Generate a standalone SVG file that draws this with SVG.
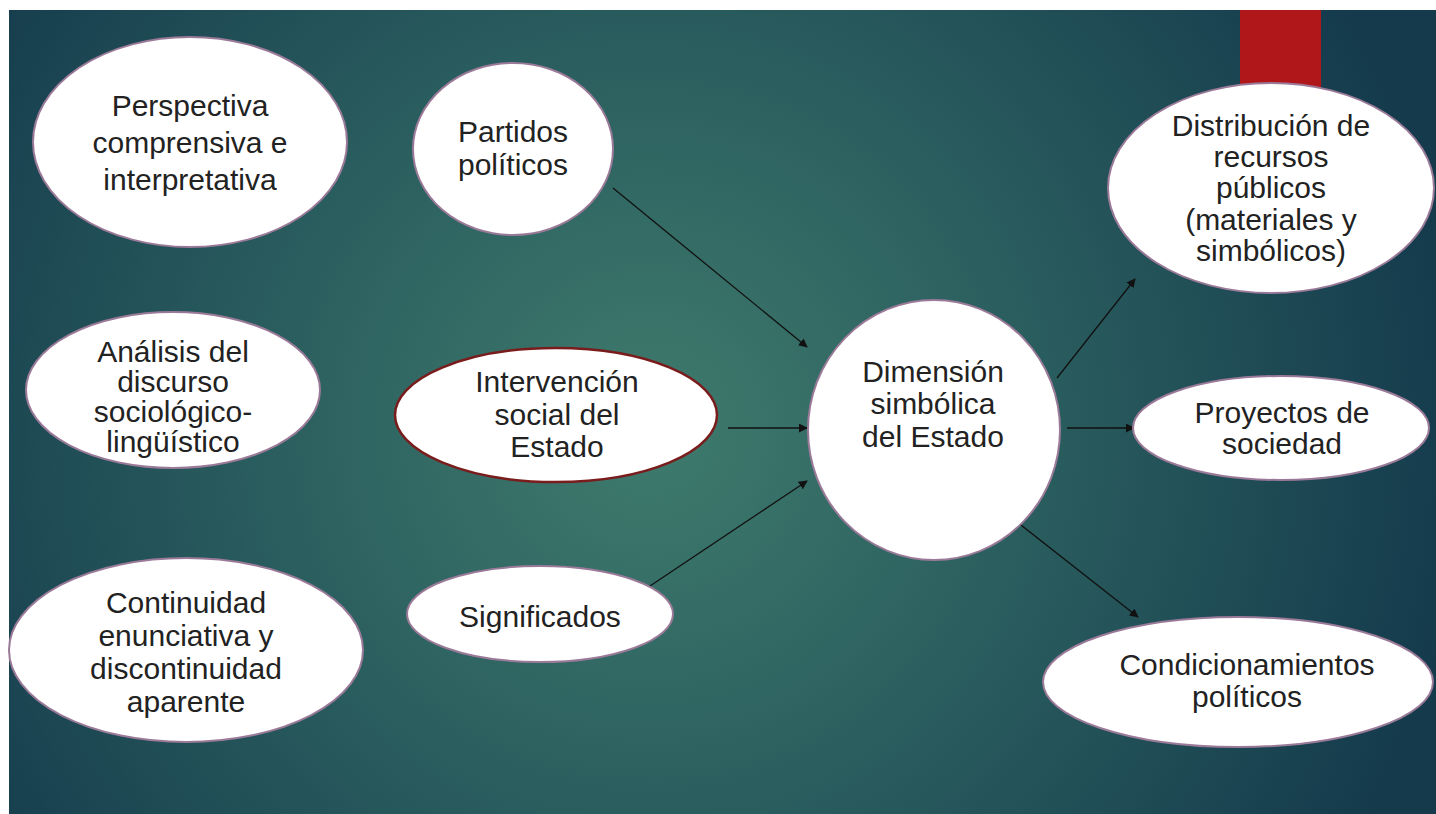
<svg xmlns="http://www.w3.org/2000/svg" width="1436" height="814" viewBox="0 0 1436 814">
<defs>
<radialGradient id="bg" cx="650" cy="430" r="820" gradientUnits="userSpaceOnUse">
<stop offset="0" stop-color="#3f7b6d"/>
<stop offset="0.45" stop-color="#2b5f5f"/>
<stop offset="1" stop-color="#143a4c"/>
</radialGradient>
<marker id="ah" viewBox="0 0 10 10" refX="9" refY="5" markerWidth="9" markerHeight="9" markerUnits="userSpaceOnUse" orient="auto">
<path d="M0,0 L10,5 L0,10 z" fill="#111"/>
</marker>
</defs>
<style>
.n{fill:#fff;stroke:#9a7a98;stroke-width:2}
.r{fill:#fff;stroke:#7a1c1c;stroke-width:2.5}
.t{font-family:"Liberation Sans",Arial,sans-serif;font-size:30px;fill:#222;text-anchor:middle}
.c{stroke:#111;stroke-width:1.3;fill:none;marker-end:url(#ah)}
</style>
<rect x="0" y="0" width="1436" height="814" fill="#fff"/>
<rect x="9" y="10" width="1427" height="804" fill="url(#bg)"/>
<rect x="1240" y="10" width="81" height="90" fill="#b0171a"/>
<g id="connectors">
<line class="c" x1="613" y1="188" x2="807" y2="347"/>
<line class="c" x1="728" y1="428" x2="807" y2="428"/>
<line class="c" x1="647" y1="588" x2="807" y2="481"/>
<line class="c" x1="1057" y1="378" x2="1135" y2="279"/>
<line class="c" x1="1067" y1="428" x2="1134" y2="428"/>
<line class="c" x1="998" y1="507" x2="1138" y2="617"/>
</g>
<g id="perspectiva">
<ellipse class="n" cx="190" cy="142" rx="157" ry="105"/>
<text class="t"><tspan x="190" y="116">Perspectiva</tspan><tspan x="190" y="153">comprensiva e</tspan><tspan x="190" y="190">interpretativa</tspan></text>
</g>
<g id="analisis">
<ellipse class="n" cx="173" cy="390" rx="147" ry="78"/>
<text class="t"><tspan x="173" y="362">Análisis del</tspan><tspan x="173" y="392">discurso</tspan><tspan x="173" y="422">sociológico-</tspan><tspan x="173" y="452">lingüístico</tspan></text>
</g>
<g id="continuidad">
<ellipse class="n" cx="186" cy="650" rx="177" ry="92"/>
<text class="t"><tspan x="186" y="613">Continuidad</tspan><tspan x="186" y="646">enunciativa y</tspan><tspan x="186" y="679">discontinuidad</tspan><tspan x="186" y="712">aparente</tspan></text>
</g>
<g id="partidos">
<ellipse class="n" cx="513" cy="149" rx="100" ry="86"/>
<text class="t"><tspan x="513" y="142">Partidos</tspan><tspan x="513" y="175">políticos</tspan></text>
</g>
<g id="intervencion">
<ellipse class="r" cx="556" cy="415" rx="161" ry="67"/>
<text class="t"><tspan x="557" y="392">Intervención</tspan><tspan x="557" y="425">social del</tspan><tspan x="557" y="457">Estado</tspan></text>
</g>
<g id="significados">
<ellipse class="n" cx="540" cy="614" rx="133" ry="48"/>
<text class="t" x="540" y="627">Significados</text>
</g>
<g id="dimension">
<ellipse class="n" cx="934" cy="430" rx="126" ry="130"/>
<text class="t"><tspan x="933" y="382">Dimensión</tspan><tspan x="933" y="414">simbólica</tspan><tspan x="933" y="447">del Estado</tspan></text>
</g>
<g id="distribucion">
<ellipse class="n" cx="1271" cy="188" rx="163" ry="105"/>
<text class="t"><tspan x="1271" y="136">Distribución de</tspan><tspan x="1271" y="167">recursos</tspan><tspan x="1271" y="198">públicos</tspan><tspan x="1271" y="230">(materiales y</tspan><tspan x="1271" y="261">simbólicos)</tspan></text>
</g>
<g id="proyectos">
<ellipse class="n" cx="1281" cy="428" rx="148" ry="52"/>
<text class="t"><tspan x="1282" y="423">Proyectos de</tspan><tspan x="1282" y="454">sociedad</tspan></text>
</g>
<g id="condicionamientos">
<ellipse class="n" cx="1238" cy="682" rx="195" ry="65"/>
<text class="t"><tspan x="1247" y="675">Condicionamientos</tspan><tspan x="1247" y="707">políticos</tspan></text>
</g>
</svg>
